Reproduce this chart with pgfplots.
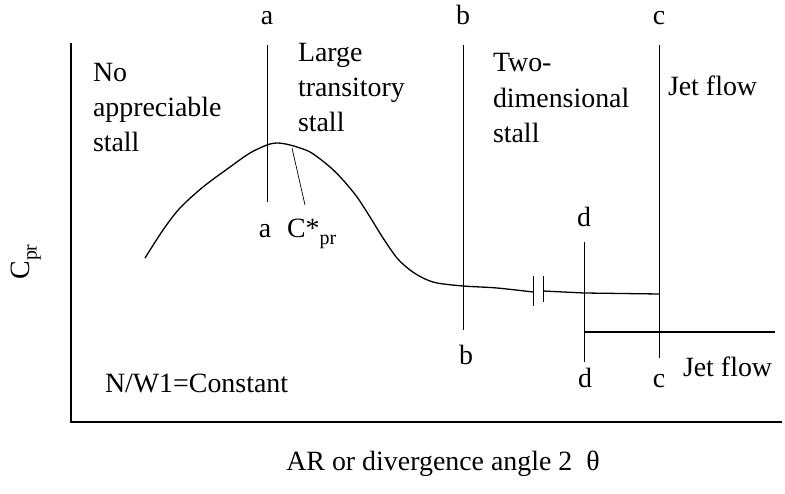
\documentclass[border=0pt]{standalone}
\usepackage{fontspec}
\setmainfont{Liberation Serif}
\usepackage{pgfplots}
\pgfplotsset{compat=1.18}
\begin{document}
\fontsize{28}{34}\selectfont
\begin{tikzpicture}[every node/.style={inner sep=0pt, outer sep=0pt}]
\begin{axis}[
  width=785bp, height=494bp, scale only axis,
  xmin=0, xmax=785, ymin=0, ymax=494,
  hide axis, clip=false,
]
% axes (L shape)
\addplot[black, line width=1.6pt] coordinates {(71,451) (71,72) (782,72)};
% vertical lines
\addplot[black, line width=0.9pt] coordinates {(267,449) (267,292)};
\addplot[black, line width=0.9pt] coordinates {(463,449) (463,164)};
\addplot[black, line width=0.9pt] coordinates {(659,449) (659,136)};
\addplot[black, line width=0.9pt] coordinates {(584,252) (584,132)};
% main curve
\addplot[black, line width=1.3pt, smooth, tension=0.5] coordinates {
 (145,236) (163,264) (180,286) (203,307) (230,327) (250,341) (267,349)
 (277,351) (290,349) (310,342) (330,327) (343,314) (357,297) (370,277)
 (383,256) (397,236) (410,224) (423,216) (437,211) (463,208) (497,206) (533,202)};
% after break
\addplot[black, line width=1.3pt] coordinates {(543,203) (584,201) (659,200)};
% break marks
\addplot[black, line width=1.0pt] coordinates {(533,218) (533,188)};
\addplot[black, line width=1.0pt] coordinates {(543,218) (543,192)};
% jet flow lower line
\addplot[black, line width=1.3pt] coordinates {(584,162) (775,162)};
% C*pr leader
\addplot[black, line width=0.7pt] coordinates {(292,346) (305,289)};

\path (axis cs:0,0) rectangle (axis cs:785,494);
% region texts
\node[anchor=base west] at (axis cs:93,412) {No};
\node[anchor=base west] at (axis cs:93,377) {appreciable};
\node[anchor=base west] at (axis cs:93,342) {stall};
\node[anchor=base west] at (axis cs:298,432) {Large};
\node[anchor=base west] at (axis cs:298,397) {transitory};
\node[anchor=base west] at (axis cs:298,362) {stall};
\node[anchor=base west] at (axis cs:493,422) {Two-};
\node[anchor=base west] at (axis cs:493,386) {dimensional};
\node[anchor=base west] at (axis cs:493,351) {stall};
\node[anchor=base west] at (axis cs:668,398) {Jet flow};
\node[anchor=base west] at (axis cs:683,117) {Jet flow};
\node[anchor=base west] at (axis cs:105,101) {N/W1=Constant};
% letters
\node[anchor=base] at (axis cs:267,469) {a};
\node[anchor=base] at (axis cs:463,469) {b};
\node[anchor=base] at (axis cs:659,469) {c};
\node[anchor=base] at (axis cs:584,267) {d};
\node[anchor=base] at (axis cs:265,256) {a};
\node[anchor=base west] at (axis cs:287,256) {C*\raisebox{-0.25em}{\fontsize{20}{20}\selectfont pr}};
\node[anchor=base] at (axis cs:466,129) {b};
\node[anchor=base] at (axis cs:585,106) {d};
\node[anchor=base] at (axis cs:659,106) {c};
% axis labels
\node[anchor=base] at (axis cs:443,24) {AR or divergence angle 2\ \ θ};
\node[rotate=90, anchor=center] at (axis cs:26,232) {C\raisebox{-0.25em}{\fontsize{20}{20}\selectfont pr}};
\end{axis}
\end{tikzpicture}
\end{document}
